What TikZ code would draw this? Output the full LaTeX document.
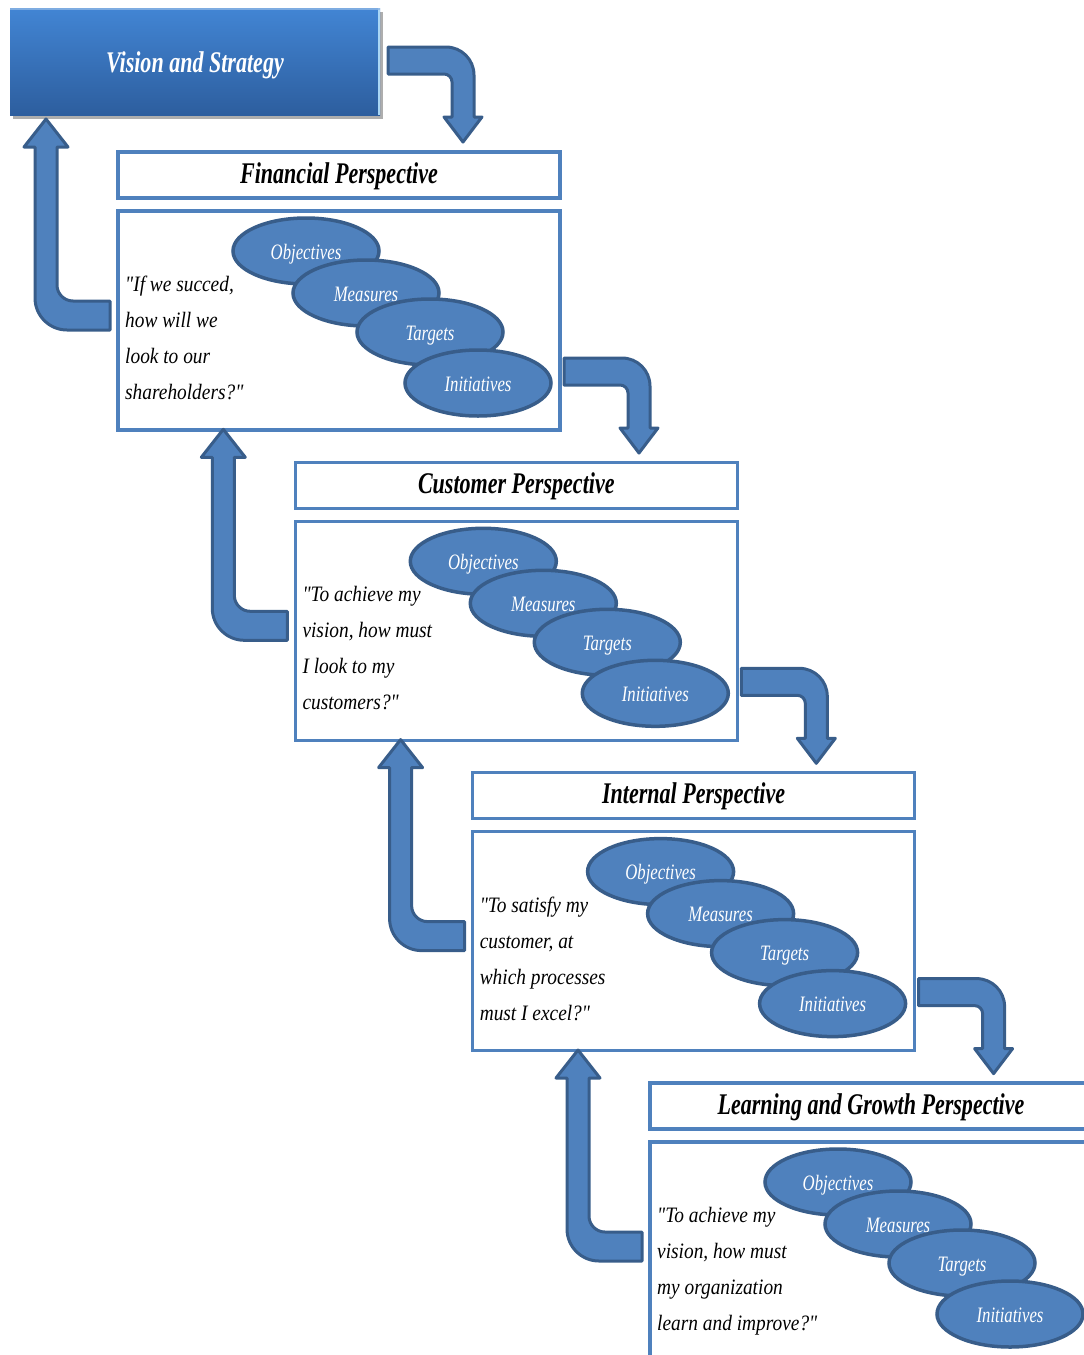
\documentclass[tikz,border=0pt]{standalone}
\usepackage{fontspec}
\setmainfont{Liberation Serif}
% narrow cuts of the serif for titles, questions and ovals
\newfontfamily\headserif{Liberation Serif}[FakeStretch=0.735]
\newfontfamily\quoteserif{Liberation Serif}[FakeStretch=0.88]
\newfontfamily\ovalserif{Liberation Serif}[FakeStretch=0.76]
\usetikzlibrary{shapes.geometric,shadows}

\definecolor{bsblue}{RGB}{79,129,189}
\definecolor{bsedge}{RGB}{56,93,138}
\definecolor{vtop}{RGB}{66,133,212}
\definecolor{vbot}{RGB}{45,94,158}
\definecolor{vglow}{RGB}{170,215,245}

% bent arrow going right then down; #1,#2 = top-left corner of the tail
\newcommand\bentdown[2]{%
  \draw[blockarrow] (#1,#2) -- ({#1+86-28},#2)
    arc[start angle=-90,end angle=0,radius=28]
    -- ({#1+86},{#2+70}) -- ({#1+75+19},{#2+70}) -- ({#1+75},{#2+95})
    -- ({#1+75-19},{#2+70}) -- ({#1+64},{#2+70}) -- ({#1+64},{#2+27+8})
    arc[start angle=0,end angle=-90,radius=8]
    -- (#1,{#2+27}) -- cycle;}

% bent arrow coming from the right then going up; #1 = shaft left, #2 = tip
\newcommand\bentup[2]{%
  \draw[blockarrow] ({#1+11},#2) -- ({#1+33},{#2+28}) -- ({#1+22},{#2+28})
    -- ({#1+22},{#2+182-16})
    arc[start angle=180,end angle=90,radius=16]
    -- ({#1+75},{#2+182}) -- ({#1+75},{#2+211}) -- ({#1+32},{#2+211})
    arc[start angle=90,end angle=180,radius=32]
    -- (#1,{#2+28}) -- ({#1-11},{#2+28}) -- cycle;}

% one perspective: title bar, question box and the four ovals
% #1 name, #2 x, #3 y of the title bar's top-left, #4 title, #5 question
\newcommand\perspective[5]{%
  \node[hdrbox] (#1-head) at ({#2+221},{#3+23}) {#4};
  \node[bodybox] (#1-body) at ({#2+221},{#3+59+109.5}) {};
  \node[question] (#1-quote) at ({#2+7},{#3+59+65}) {#5};
  \node[oval] (#1-obj) at ({#2+188},{#3+59+40}) {Objectives};
  \node[oval] (#1-mea) at ({#2+248},{#3+59+82}) {Measures};
  \node[oval] (#1-tar) at ({#2+312},{#3+59+121}) {Targets};
  \node[oval] (#1-ini) at ({#2+360},{#3+59+172}) {Initiatives};}

\begin{document}
\begin{tikzpicture}[x=1pt,y=-1pt,
  hdrbox/.style={draw=bsblue,line width=3.5pt,fill=white,outer sep=0pt,
    minimum width=442pt,minimum height=46pt,inner sep=0pt,
    text height=21pt,text depth=5pt,
    font=\headserif\bfseries\itshape\fontsize{30}{36}\selectfont},
  bodybox/.style={draw=bsblue,line width=3.5pt,fill=white,outer sep=0pt,
    minimum width=442pt,minimum height=219pt,inner sep=0pt},
  question/.style={anchor=north west,align=left,inner sep=0pt,
    font=\quoteserif\itshape\fontsize{22}{36}\selectfont},
  oval/.style={ellipse,draw=bsedge,line width=3.5pt,fill=bsblue,
    minimum width=146pt,minimum height=66pt,inner sep=0pt,text=white,
    text height=16pt,text depth=0pt,
    font=\ovalserif\itshape\fontsize{22}{26}\selectfont},
  blockarrow/.style={draw=bsedge,fill=bsblue,line width=3pt,line join=round},
  visionbox/.style={top color=vtop,bottom color=vbot,draw=none,outer sep=0pt,
    minimum width=370pt,minimum height=107pt,inner sep=0pt,text=white,
    text height=21pt,text depth=0pt,
    drop shadow={shadow xshift=3pt,shadow yshift=-4pt,opacity=.45,fill=black!70},
    font=\headserif\bfseries\itshape\fontsize{30}{36}\selectfont}]

\useasboundingbox (0,0) rectangle (1084,1355);
\clip (0,0) rectangle (1084,1355);

% top box
\node[visionbox] (vision) at (195,61.5) {Vision and Strategy};
\draw[vglow,line width=1.5pt] ([xshift=-1pt]vision.north east) -- ([xshift=-1pt]vision.south east);
\draw[vtop!60!white,line width=1.2pt,opacity=.8] ([yshift=-1pt]vision.north west) -- ([yshift=-1pt]vision.north east);

% the four perspectives
\perspective{fin}{118}{152}{Financial Perspective}
  {"If we succed,\\how will we\\look to our\\shareholders?"}
\perspective{cus}{295.3}{462.3}{Customer Perspective}
  {"To achieve my\\vision, how must\\I look to my\\customers?"}
\perspective{int}{472.6}{772.6}{Internal Perspective}
  {"To satisfy my\\customer, at\\which processes\\must I excel?"}
\perspective{lrn}{650}{1083}{Learning and Growth Perspective}
  {"To achieve my\\vision, how must\\my organization\\learn and improve?"}

% arrows down the cascade
\begin{scope}[shift={(vision.north east)}]\bentdown{8}{39}\end{scope}
\begin{scope}[shift={(fin-body.north east)}]\bentdown{4}{147}\end{scope}
\begin{scope}[shift={(cus-body.north east)}]\bentdown{4}{147}\end{scope}
\begin{scope}[shift={(int-body.north east)}]\bentdown{4}{147}\end{scope}

% arrows back up the cascade
\begin{scope}[shift={(fin-body.north west)}]\bentup{-83}{-92}\end{scope}
\begin{scope}[shift={(cus-body.north west)}]\bentup{-83}{-92}\end{scope}
\begin{scope}[shift={(int-body.north west)}]\bentup{-83}{-92}\end{scope}
\begin{scope}[shift={(lrn-body.north west)}]\bentup{-83}{-92}\end{scope}

\end{tikzpicture}
\end{document}
